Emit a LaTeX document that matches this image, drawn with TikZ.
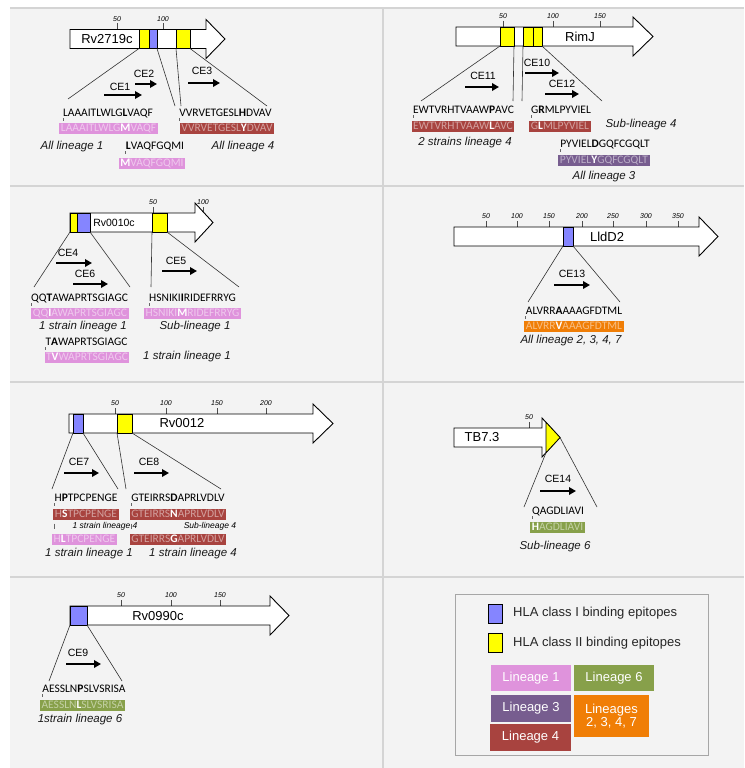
\documentclass[tikz,border=0pt]{standalone}
\usepackage{fontspec}
\setmainfont{Liberation Sans}
\newfontfamily\calib{Carlito}
\usetikzlibrary{arrows.meta,calc}
\definecolor{panelbg}{HTML}{F3F3F3}
\definecolor{gridc}{HTML}{D4D4D4}
\definecolor{epiblue}{HTML}{8585FF}
\definecolor{epiyellow}{HTML}{FFFF00}
\definecolor{linA}{HTML}{DF93DC}
\definecolor{linB}{HTML}{A8433F}
\definecolor{linC}{HTML}{775D8F}
\definecolor{linD}{HTML}{87A04A}
\definecolor{linE}{HTML}{F07E06}
\newcommand\seqfont{\calib\fontsize{11.5}{13}\selectfont}
\newlength\spre \newlength\smid \newlength\soff
\newcommand\origseq[5]{%
  \node[seqtxt] (#1) at ($#2+(0,3.7)$) {#3{\bfseries #4}#5};
  \settowidth\spre{\seqfont #3}\settowidth\smid{\seqfont\bfseries #4}%
  \setlength\soff{\dimexpr\spre+0.5\smid\relax}%
  \coordinate (#1-m) at ($(#1.base west)+(\soff,0pt)$);
  \draw[mutmark] ($(#1-m)+(0,1.5)$) -- ($(#1-m)+(0,4.5)$);
}
\newcommand\mutseq[6]{%
  \node[mutbox, fill=#6, text=white!50!#6] (#1) at #2 {#3{\bfseries\color{white}#4}#5};
}
\newcommand\genearrow[7]{%
  \pgfmathsetmacro\gmid{(#5+#6)/2}%
  \pgfmathsetmacro\ght{\gmid-#7}\pgfmathsetmacro\ghb{\gmid+#7}%
  \coordinate (#1-tip) at (#4,\gmid);
  \draw[gene] (#2,#5) -- (#3,#5) -- (#3,\ght) -- (#1-tip) -- (#3,\ghb) -- (#3,#6) -- (#2,#6) -- cycle;
}
\newcommand\epi[6]{%
  \coordinate (#1-nw) at (#3,#5); \coordinate (#1-se) at (#4,#6);
  \coordinate (#1-sw) at (#3,#6);
  \draw[#2] (#1-nw) rectangle (#1-se);
}
\newcommand\tickmk[3]{%
  \draw[tickln] (#1,#2-6) -- (#1,#2);
  \node[ticklabel] at (#1,#2-10.5) {#3};
}
\newcommand\cearr[5]{% name, label pos, x1, x2, y
  \node[celabel] (#1) at #2 {#1};
  \coordinate (#1-a) at (#3,#5); \coordinate (#1-b) at (#4,#5);
  \draw[cearrow] (#1-a) -- (#1-b);
}
\begin{document}
\begin{tikzpicture}[x=1pt,y=-1pt,
  gene/.style={draw=black, fill=white, line width=0.9pt, line join=miter},
  epiI/.style={draw=black, fill=epiblue, line width=0.7pt},
  epiII/.style={draw=black, fill=epiyellow, line width=0.7pt},
  conn/.style={draw=black!80, line width=0.6pt},
  cearrow/.style={line width=2.5pt, -{Triangle[length=7pt,width=7.5pt]}},
  celabel/.style={font=\fontsize{10.5}{12}\selectfont, inner sep=0},
  genelabel/.style={font=\fontsize{13}{15}\selectfont, inner sep=0},
  ticklabel/.style={font=\itshape\fontsize{7}{8}\selectfont, inner sep=0},
  tickln/.style={draw=black!70, line width=0.5pt},
  note/.style={font=\itshape\fontsize{11.5}{13}\selectfont, inner sep=0, text=black!90},
  smallnote/.style={font=\itshape\fontsize{8.5}{10}\selectfont, inner sep=0},
  seqtxt/.style={font=\seqfont, inner sep=0, anchor=base},
  mutbox/.style={font=\seqfont, inner xsep=1.5pt, inner ysep=0.75pt, text height=7.8pt, text depth=1.7pt},
  mutmark/.style={draw=black!60, line width=0.6pt},
  legbox/.style={minimum width=80pt, minimum height=26pt, inner sep=0, text=white, font=\fontsize{13}{15}\selectfont, align=center},
  legtext/.style={font=\fontsize{13}{15}\selectfont, anchor=west, inner sep=0, text=black!85},
  ]
\useasboundingbox (0,0) rectangle (744,768);
\fill[white] (0,0) rectangle (744,768);
\fill[panelbg] (10,8) rectangle (744,768);
\draw[gridc, line width=1.5pt] (10,8) -- (744,8);
\draw[gridc, line width=1.5pt] (10,186) -- (744,186);
\draw[gridc, line width=1.5pt] (10,382) -- (744,382);
\draw[gridc, line width=1.5pt] (10,577) -- (744,577);
\draw[gridc, line width=1.5pt] (383,8) -- (383,768);

% ================= Panel 1: Rv2719c
\tickmk{117}{29.5}{50}\tickmk{163}{29.5}{100}
\genearrow{g1}{70}{206}{225}{29.5}{48.5}{19.5}
\epi{e1a}{epiII}{139}{149}{29.5}{48.5}
\epi{e1b}{epiI}{149}{157}{29.5}{48.5}
\epi{e1c}{epiII}{176}{190}{29.5}{48.5}
\node[genelabel] (n1) at (107,39) {Rv2719c};
\coordinate (c1a) at (68,99); \coordinate (c1b) at (175,106);
\coordinate (c1c) at (181,106); \coordinate (c1d) at (267,106);
\draw[conn] (e1a-sw) -- (c1a);
\draw[conn] (e1b-se) -- (c1b);
\draw[conn] (e1c-sw) -- (c1c);
\draw[conn] (e1c-se) -- (c1d);
\cearr{CE1}{(120,87)}{104}{142}{95}
\cearr{CE2}{(144,74)}{135}{157}{84}
\cearr{CE3}{(202,71)}{188}{220}{83}
\origseq{o1a}{(108,113)}{LAAAITLWLG}{L}{VAQF}
\mutseq{m1a}{(108.5,128.5)}{LAAAITLWLG}{M}{VAQF}{linA}
\node[note] (t1a) at (72,147) {All lineage 1};
\origseq{o1b}{(155,146)}{}{L}{VAQFGQMI}
\mutseq{m1b}{(152,163.5)}{}{M}{VAQFGQMI}{linA}
\origseq{o1c}{(225.5,113)}{VVRVETGESL}{H}{DVAV}
\mutseq{m1c}{(227,128.5)}{VVRVETGESL}{Y}{DVAV}{linB}
\node[note] (t1c) at (243,147) {All lineage 4};

% ================= Panel 2: RimJ
\tickmk{503}{27}{50}\tickmk{553}{27}{100}\tickmk{600}{27}{150}
\genearrow{g2}{456}{633}{653}{27}{46}{19.5}
\epi{e2a}{epiII}{500}{514}{27}{46}
\epi{e2b}{epiII}{523}{533}{27}{46}
\epi{e2c}{epiII}{533}{542}{27}{46}
\node[genelabel] (n2) at (580,36.5) {RimJ};
\coordinate (c2a) at (421,101); \coordinate (c2b) at (513,101);
\coordinate (c2c) at (522,101); \coordinate (c2d) at (602,101);
\draw[conn] (e2a-sw) -- (c2a);
\draw[conn] (e2a-se) -- (c2b);
\draw[conn] (e2b-sw) -- (c2c);
\draw[conn] (e2c-se) -- (c2d);
\cearr{CE11}{(483,76)}{465}{499}{87}
\cearr{CE10}{(537,63)}{525}{559}{73}
\cearr{CE12}{(562,84)}{545}{579}{94}
\origseq{o2a}{(463.5,110)}{EWTVRHTVAAW}{P}{AVC}
\mutseq{m2a}{(463,126)}{EWTVRHTVAAW}{L}{AVC}{linB}
\node[note] (t2a) at (465,143) {2 strains lineage 4};
\origseq{o2b}{(561,110)}{G}{R}{MLPYVIEL}
\mutseq{m2b}{(560,126)}{G}{L}{MLPYVIEL}{linB}
\node[note] (t2b) at (641,125) {Sub-lineage 4};
\origseq{o2c}{(605,144)}{PYVIEL}{D}{GQFCGQLT}
\mutseq{m2c}{(604,160.5)}{PYVIEL}{Y}{GQFCGQLT}{linC}
\node[note] (t2c) at (604,177) {All lineage 3};

% ================= Panel 3: Rv0010c
\tickmk{153}{213}{50}\tickmk{203}{213}{100}
\genearrow{g3}{70}{195}{213}{213}{232}{19.5}
\epi{e3a}{epiII}{70}{77}{213}{232}
\epi{e3b}{epiI}{77}{90}{213}{232}
\epi{e3c}{epiII}{152}{167}{213}{232}
\node[genelabel, font=\fontsize{10.5}{12}\selectfont] (n3) at (114,222.5) {Rv0010c};
\coordinate (c3a) at (34,287); \coordinate (c3b) at (130,287);
\coordinate (c3c) at (151,287); \coordinate (c3d) at (239,287);
\draw[conn] (e3a-sw) -- (c3a);
\draw[conn] (e3b-se) -- (c3b);
\draw[conn] (e3c-sw) -- (c3c);
\draw[conn] (e3c-se) -- (c3d);
\cearr{CE4}{(68,253)}{56}{92}{263}
\cearr{CE6}{(85,274)}{73}{108}{284}
\cearr{CE5}{(176,261)}{162}{197}{271}
\origseq{o3a}{(79.5,298)}{QQ}{T}{AWAPRTSGIAGC}
\mutseq{m3a}{(80,313)}{QQ}{I}{AWAPRTSGIAGC}{linA}
\node[note] (t3a) at (83,327) {1 strain lineage 1};
\origseq{o3b}{(86.5,342)}{T}{A}{WAPRTSGIAGC}
\mutseq{m3b}{(87,357.5)}{T}{V}{WAPRTSGIAGC}{linA}
\node[note] (t3b) at (187,357) {1 strain lineage 1};
\origseq{o3c}{(192.5,298)}{HSNIKI}{I}{RIDEFRRYG}
\mutseq{m3c}{(192.5,313)}{HSNIKI}{M}{RIDEFRRYG}{linA}
\node[note] (t3c) at (195,327) {Sub-lineage 1};

% ================= Panel 4: LldD2
\tickmk{486}{227}{50}\tickmk{517}{227}{100}\tickmk{549}{227}{150}
\tickmk{582}{227}{200}\tickmk{613}{227}{250}\tickmk{646}{227}{300}\tickmk{678}{227}{350}
\genearrow{g4}{454}{699}{718}{227}{246}{19.5}
\epi{e4a}{epiI}{563}{573}{227}{246}
\node[genelabel] (n4) at (607,236.5) {LldD2};
\coordinate (c4a) at (528,302); \coordinate (c4b) at (620,302);
\draw[conn] (e4a-sw) -- (c4a);
\draw[conn] (e4a-se) -- (c4b);
\cearr{CE13}{(572,274)}{554}{590}{285}
\origseq{o4a}{(574,311)}{ALVRR}{A}{AAAGFDTML}
\mutseq{m4a}{(574,326.5)}{ALVRR}{V}{AAAGFDTML}{linE}
\node[note] (t4a) at (571,341) {All lineage 2, 3, 4, 7};

% ================= Panel 5: Rv0012
\tickmk{115}{414}{50}\tickmk{166}{414}{100}\tickmk{217}{414}{150}\tickmk{266}{414}{200}
\genearrow{g5}{69}{313}{333}{414}{433}{19.5}
\epi{e5a}{epiI}{73}{83}{414}{433}
\epi{e5b}{epiII}{117}{132}{414}{433}
\node[genelabel] (n5) at (182,423.5) {Rv0012};
\coordinate (c5a) at (52,489); \coordinate (c5b) at (118,489);
\coordinate (c5c) at (126,489); \coordinate (c5d) at (221,489);
\draw[conn] (e5a-sw) -- (c5a);
\draw[conn] (e5a-se) -- (c5b);
\draw[conn] (e5b-sw) -- (c5c);
\draw[conn] (e5b-se) -- (c5d);
\cearr{CE7}{(79,462)}{64}{99}{473}
\cearr{CE8}{(149,462)}{134}{169}{473}
\origseq{o5a}{(86,498)}{H}{P}{TPCPENGE}
\mutseq{m5a}{(86,514)}{H}{S}{TPCPENGE}{linB}
\draw[mutmark] ($(o5a-m)+(0,22)$) -- ($(o5a-m)+(0,27)$);
\node[smallnote] (t5s1) at (105,526) {1 strain lineage 4};
\mutseq{m5b}{(84.5,539)}{H}{L}{TPCPENGE}{linA}
\node[note] (t5a) at (89,554) {1 strain lineage 1};
\origseq{o5b}{(178,498)}{GTEIRRS}{D}{APRLVDLV}
\mutseq{m5c}{(178,514)}{GTEIRRS}{N}{APRLVDLV}{linB}
\draw[mutmark] ($(o5b-m)+(0,22)$) -- ($(o5b-m)+(0,27)$);
\node[smallnote] (t5s2) at (210,526) {Sub-lineage 4};
\mutseq{m5d}{(178,539)}{GTEIRRS}{G}{APRLVDLV}{linB}
\node[note] (t5b) at (193,554) {1 strain lineage 4};

% ================= Panel 6: TB7.3
\tickmk{529}{428}{50}
\genearrow{g6}{454}{542}{560}{428}{447}{19.5}
\coordinate (tri-t) at (546,422.3); \coordinate (tri-b) at (546,452.7);
\draw[epiII] (tri-t) -- (g6-tip) -- (tri-b) -- cycle;
\node[genelabel] (n6) at (482,437.5) {TB7.3};
\coordinate (c6a) at (524,507); \coordinate (c6b) at (597,507);
\draw[conn] (tri-b) -- (c6a);
\draw[conn] (g6-tip) -- (c6b);
\cearr{CE14}{(558,479)}{540}{576}{491}
\origseq{o6a}{(558,511)}{}{\mdseries Q}{AGDLIAVI}
\mutseq{m6a}{(557.5,527.5)}{}{H}{AGDLIAVI}{linD}
\node[note] (t6a) at (555,547) {Sub-lineage 6};

% ================= Panel 7: Rv0990c
\tickmk{121}{606}{50}\tickmk{171}{606}{100}\tickmk{220}{606}{150}
\genearrow{g7}{70}{270}{289}{606}{625}{19.5}
\epi{e7a}{epiI}{70}{87}{606}{625}
\node[genelabel] (n7) at (158,616) {Rv0990c};
\coordinate (c7a) at (49,681); \coordinate (c7b) at (122,681);
\draw[conn] (e7a-sw) -- (c7a);
\draw[conn] (e7a-se) -- (c7b);
\cearr{CE9}{(78,653)}{66}{101}{664}
\origseq{o7a}{(84,689)}{AESSLN}{P}{SLVSRISA}
\mutseq{m7a}{(82.5,705.5)}{AESSLN}{L}{SLVSRISA}{linD}
\node[note] (t7a) at (80,720) {1strain lineage 6};

% ================= Legend
\draw[black!35, line width=1pt] (455,594) rectangle (708,755);
\draw[black, line width=0.8pt, fill=epiblue] (488,604) rectangle (502,623);
\node[legtext] (lg1) at (513,613) {HLA class I binding epitopes};
\draw[black, line width=0.8pt, fill=epiyellow] (488,633) rectangle (502,652);
\node[legtext] (lg2) at (513,643) {HLA class II binding epitopes};
\node[legbox, fill=linA] (L1) at (531,678) {Lineage 1};
\node[legbox, fill=linD] (L6) at (614,678) {Lineage 6};
\node[legbox, fill=linC, minimum height=27pt] (L3) at (531,708.5) {Lineage 3};
\node[legbox, fill=linB, minimum height=27pt, minimum width=81pt] (L4) at (530.5,737.5) {Lineage 4};
\node[legbox, fill=linE, minimum width=75pt, minimum height=42pt] (L2) at (611.5,716) {Lineages\\[-2pt]2, 3, 4, 7};
\end{tikzpicture}
\end{document}
